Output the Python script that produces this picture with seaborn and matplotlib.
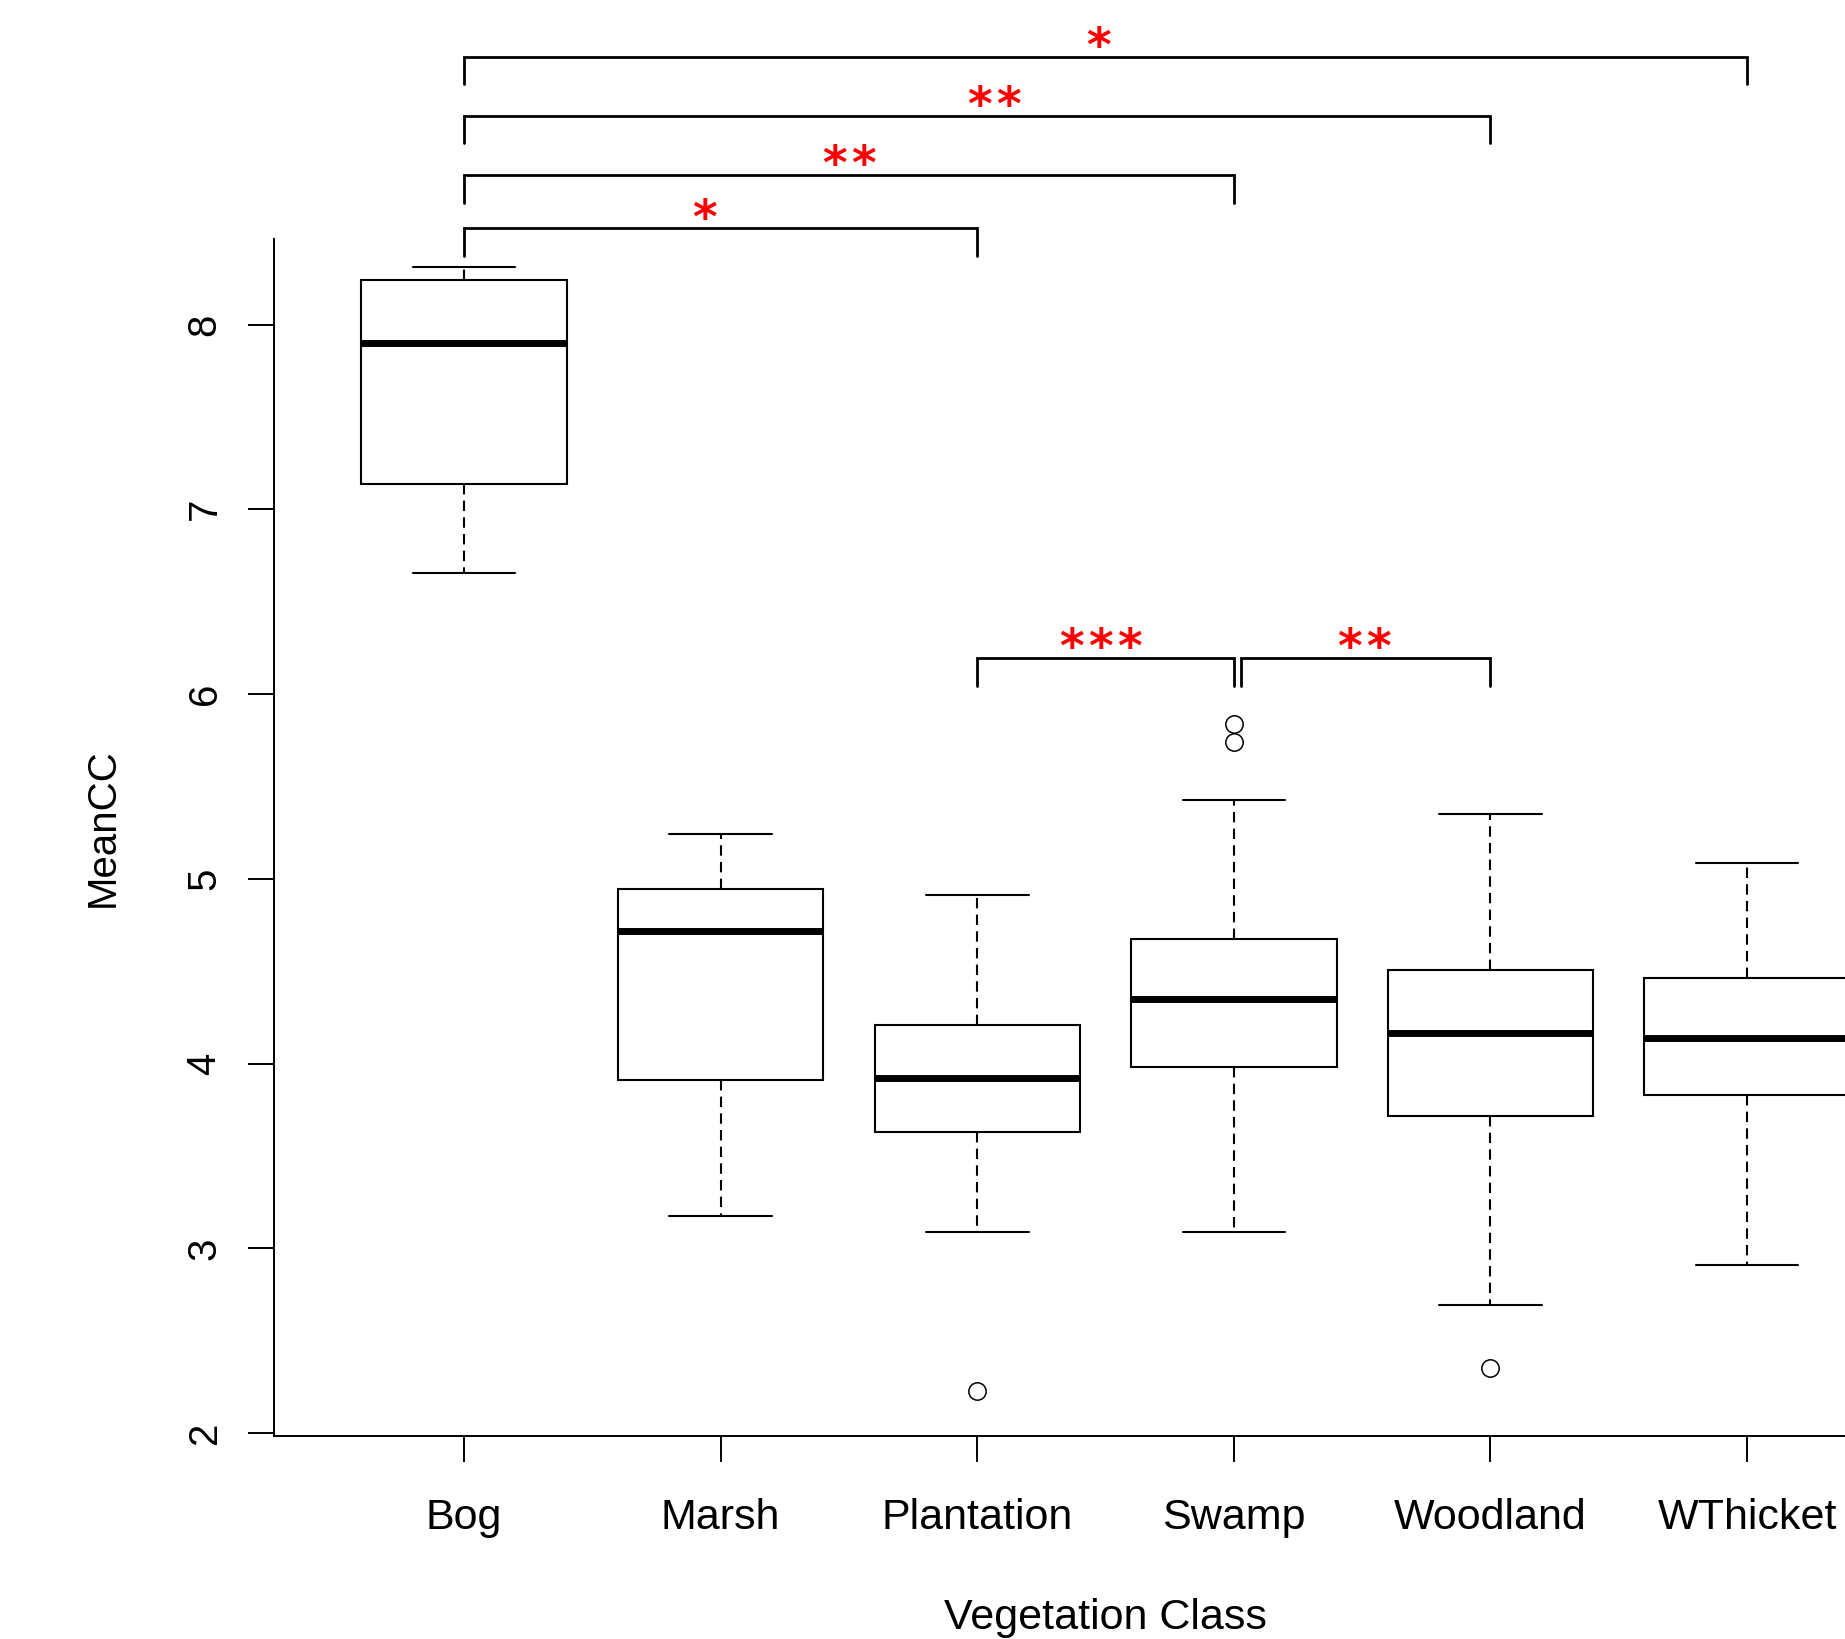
import numpy as np
import pandas as pd
import matplotlib
matplotlib.use("Agg")
import matplotlib.pyplot as plt
import seaborn as sns

# five-number summaries (whisker ends, quartiles, median)
classes = ["Bog", "Marsh", "Plantation", "Swamp", "Woodland", "WThicket"]
whisker_low = [6.655, 3.176, 3.091, 3.087, 2.694, 2.909]
q1 = [7.135, 3.912, 3.629, 3.982, 3.715, 3.829]
median = [7.900, 4.718, 3.924, 4.350, 4.168, 4.137]
q3 = [8.240, 4.944, 4.208, 4.675, 4.504, 4.462]
whisker_high = [8.310, 5.240, 4.915, 5.425, 5.353, 5.086]

# points beyond the whiskers
outlier_class = ["Plantation", "Swamp", "Swamp", "Woodland"]
outlier_value = [2.229, 5.840, 5.740, 2.352]

# significance brackets between pairs of classes
bracket_a = ["Bog", "Bog", "Bog", "Bog", "Plantation", "Swamp"]
bracket_b = ["Plantation", "Swamp", "Woodland", "WThicket", "Swamp", "Woodland"]
bracket_y = [8.52, 8.81, 9.13, 9.45, 6.195, 6.195]
bracket_label = ["*", "**", "**", "*", "***", "**"]
star_shift = [-0.062, 0.0, 0.064, -0.027, -0.021, -0.006]

sns.set_theme(style="white")
plt.rcParams["font.family"] = ["Liberation Sans", "DejaVu Sans"]
plt.rcParams.update({"text.color": "black", "axes.labelcolor": "black",
                     "xtick.color": "black", "ytick.color": "black"})

# long-form table: each class gets its five summary values
df = pd.DataFrame({
    "Vegetation Class": np.repeat(classes, 5),
    "MeanCC": np.column_stack([whisker_low, q1, median, q3, whisker_high]).ravel(),
})

fig = plt.figure(figsize=(18.45, 16.39), dpi=100)
ax = fig.add_axes([0.1485, 0.1239, 0.9014, 0.7303])

sns.boxplot(data=df, x="Vegetation Class", y="MeanCC", order=classes,
            whis=(0, 100), showfliers=False, width=0.8,
            color="white", linecolor="black", linewidth=1.5,
            medianprops={"linewidth": 5.0, "color": "black"},
            whiskerprops={"linestyle": (0, (5, 3))},
            ax=ax)

pos = {c: i for i, c in enumerate(classes)}
ax.plot([pos[c] for c in outlier_class], outlier_value, ls="none", marker="o",
        ms=12.5, mfc="none", mec="black", mew=1.1)

# brackets with red stars (drawn above the plot region as in the original)
tick = 0.15
star_gap = 21  # points between neighbouring stars
for a, b, y, lab, sh in zip(bracket_a, bracket_b, bracket_y, bracket_label, star_shift):
    xa, xb = pos[a], pos[b]
    if a == "Swamp":
        xa += 0.027
    ax.plot([xa, xa, xb, xb], [y - tick, y, y, y - tick], color="black",
            lw=2.0, clip_on=False, solid_joinstyle="miter")
    n = len(lab)
    for k in range(n):
        ax.annotate("*", xy=((xa + xb) / 2 + sh, y),
                    xytext=((k - (n - 1) / 2) * star_gap, -3),
                    textcoords="offset points", ha="center", va="baseline",
                    color="red", fontsize=34, fontweight="bold",
                    family="DejaVu Sans", annotation_clip=False)

ax.set_xlim(-0.74, 5.74)
ax.set_ylim(1.985, 8.463)
ax.set_yticks(range(2, 9))
ax.set_yticklabels([str(v) for v in range(2, 9)], rotation=90, va="center",
                   fontsize=29)
ax.set_xticks(range(len(classes)))
ax.set_xticklabels(classes, fontsize=31)

ax.set_xlabel("Vegetation Class", fontsize=31, labelpad=43)
ax.set_ylabel("MeanCC", fontsize=29)
ax.yaxis.set_label_coords(-0.0917, 0.508)

sns.despine(ax=ax)
for side in ["left", "bottom"]:
    ax.spines[side].set_color("black")
    ax.spines[side].set_linewidth(1.4)
ax.tick_params(axis="x", direction="out", length=18.7, width=1.4, color="black",
               pad=26, bottom=True)
ax.tick_params(axis="y", direction="out", length=18.7, width=1.4, color="black",
               pad=17.6, left=True)

fig.savefig("out.png", dpi=100)
